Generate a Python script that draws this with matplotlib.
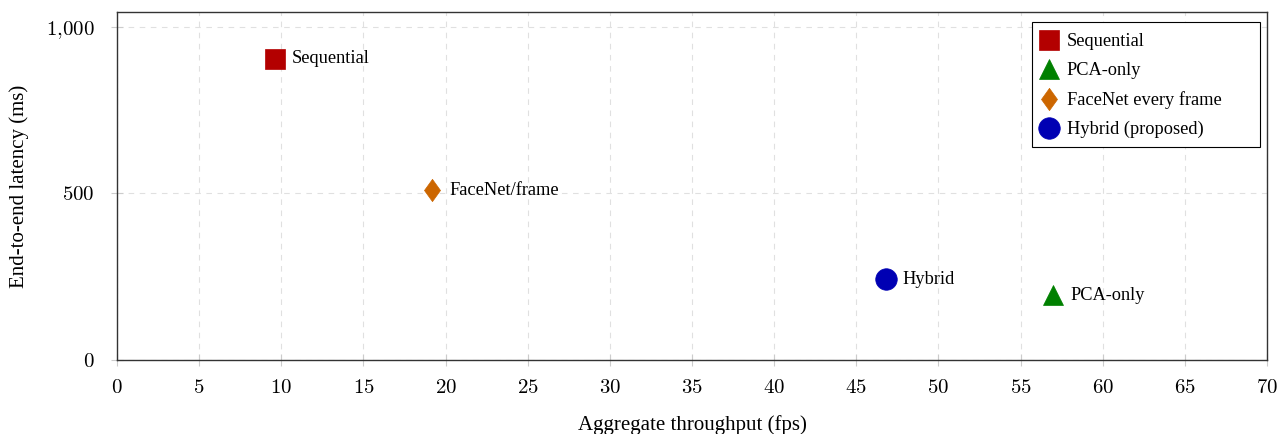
import matplotlib
matplotlib.use("Agg")
import matplotlib.pyplot as plt
from matplotlib.ticker import FixedLocator
from matplotlib.patches import Rectangle

plt.rcParams['mathtext.fontset'] = 'cm'
plt.rcParams['font.family'] = ['Liberation Serif', 'DejaVu Serif']

methods = ["Sequential", "PCA-only", "FaceNet every frame", "Hybrid (proposed)"]
point_labels = ["Sequential", "PCA-only", "FaceNet/frame", "Hybrid"]
throughput = [9.6, 57.0, 19.2, 46.8]
latency = [905, 195, 510, 242]
diamond = [(0, 1), (0.72, 0), (0, -1), (-0.72, 0), (0, 1)]
markers = ["s", "^", diamond, "o"]
colors = ["#B30000", "#008000", "#CC6600", "#0000B3"]
sizes = [15, 14, 16, 15.5]

x_ticks = list(range(0, 71, 5))
y_ticks = [0, 500, 1000]
y_tick_labels = ["0", "500", "1{,}000"]

W, H = 1279, 434
fig = plt.figure(figsize=(W/100, H/100), dpi=100)
ax = fig.add_axes([117/W, 1-360/H, (1267-117)/W, (360-12)/H])

handles = []
for m, pl, x, y, mk, c, s in zip(methods, point_labels, throughput, latency, markers, colors, sizes):
    h, = ax.plot([x], [y], linestyle="none", marker=mk, color=c, markersize=s,
                 markeredgewidth=0.5, label=m, zorder=3)
    handles.append(h)
    ax.annotate(pl, (x, y), xytext=(12, 0), textcoords="offset points",
                ha="left", va="center", fontsize=13.2)

ax.set_xlim(0, 70)
ax.set_ylim(0, 1045)
ax.xaxis.set_major_locator(FixedLocator(x_ticks))
ax.yaxis.set_major_locator(FixedLocator(y_ticks))
ax.set_xticklabels([f"${t}$" for t in x_ticks], fontsize=15)
ax.set_yticklabels([f"${t}$" for t in y_tick_labels], fontsize=15)
ax.grid(True, linestyle=(0, (5, 5)), color="#e0e0e0", linewidth=0.8)
ax.set_axisbelow(True)
ax.tick_params(direction="inout", length=8, color="#cccccc", width=0.8)
ax.tick_params(axis="x", pad=10)
ax.tick_params(axis="y", pad=12)
for sp in ax.spines.values():
    sp.set_linewidth(1.0)
    sp.set_color("#333333")

ax.set_xlabel("Aggregate throughput (fps)", fontsize=15, labelpad=12)
ax.set_ylabel("End-to-end latency (ms)", fontsize=15, labelpad=12)

# legend box
box = Rectangle((1032/W, 1-147/H), (1260-1032)/W, (147-22)/H, transform=fig.transFigure,
                facecolor="white", edgecolor="black", linewidth=0.8, zorder=5)
fig.add_artist(box)
leg = fig.legend(handles=handles, labels=methods, loc="upper left",
                 bbox_to_anchor=(1040/W, 1-33.5/H), bbox_transform=fig.transFigure,
                 fontsize=13.2, frameon=False, handlelength=1.0, handletextpad=0.45,
                 borderpad=0, borderaxespad=0, labelspacing=0.65, markerscale=1.0)
leg.set_zorder(6)

fig.savefig("out.png", dpi=100)
